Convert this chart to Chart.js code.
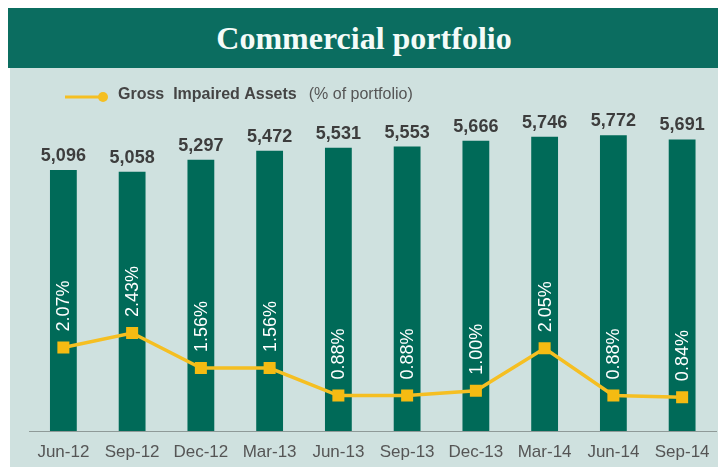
<!DOCTYPE html>
<html>
<head>
<meta charset="utf-8">
<script src="https://cdn.jsdelivr.net/npm/chart.js@4.4.1/dist/chart.umd.min.js"></script>
<style>
  html, body { margin: 0; padding: 0; background: #ffffff; }
  #wrap { position: relative; width: 718px; height: 467px; overflow: hidden; }
  #panel { position: absolute; left: 10px; top: 68px; right: 0; bottom: 0; background: #cfe1df; }
  #title {
    position: absolute; left: 8px; top: 8px; right: 0; height: 60px;
    background: #0b6d60; color: #f4fbf8;
    font-family: 'Liberation Serif', 'DejaVu Serif', serif; font-weight: bold; font-size: 32px;
    display: flex; align-items: center; justify-content: center;
    padding-left: 2px; box-sizing: border-box;
  }
  #myChart { position: absolute; left: 0; top: 0; }
</style>
</head>
<body>
<div id="wrap">
  <div id="panel"></div>
  <div id="title">Commercial portfolio</div>
  <canvas id="myChart" width="725" height="467"></canvas>
</div>
<script>
  const quarters = ['Jun-12', 'Sep-12', 'Dec-12', 'Mar-13', 'Jun-13', 'Sep-13', 'Dec-13', 'Mar-14', 'Jun-14', 'Sep-14'];
  const portfolio = [5096, 5058, 5297, 5472, 5531, 5553, 5666, 5746, 5772, 5691];
  const impaired = [2.07, 2.43, 1.56, 1.56, 0.88, 0.88, 1.00, 2.05, 0.88, 0.84];

  const barGreen = '#006a58';
  const gold = '#f5bf22';

  // labels on bars + the custom legend
  const labelsPlugin = {
    id: 'labels',
    afterDatasetsDraw(chart) {
      const c = chart.ctx;
      const lineMeta = chart.getDatasetMeta(0);
      const barMeta = chart.getDatasetMeta(1);
      c.save();
      // values above the bars
      c.font = 'bold 18px "Liberation Sans", Arial, sans-serif';
      c.fillStyle = '#3d3d3d';
      c.textAlign = 'center';
      c.textBaseline = 'alphabetic';
      barMeta.data.forEach((bar, i) => {
        c.fillText(portfolio[i].toLocaleString('en-US'), bar.x, bar.y - 9);
      });
      // rotated percentages inside bars
      c.font = '18px "Liberation Sans", Arial, sans-serif';
      c.fillStyle = '#ffffff';
      c.textAlign = 'left';
      c.textBaseline = 'middle';
      lineMeta.data.forEach((pt, i) => {
        c.save();
        c.translate(barMeta.data[i].x, pt.y - 16);
        c.rotate(-Math.PI / 2);
        c.fillText(impaired[i].toFixed(2) + '%', 0, 1);
        c.restore();
      });
      // legend
      c.strokeStyle = gold;
      c.lineWidth = 3;
      c.beginPath();
      c.moveTo(65, 97);
      c.lineTo(103, 97);
      c.stroke();
      c.fillStyle = gold;
      c.beginPath();
      c.arc(103, 97, 5, 0, Math.PI * 2);
      c.fill();
      c.textBaseline = 'middle';
      c.font = 'bold 16px "Liberation Sans", Arial, sans-serif';
      c.fillStyle = '#444444';
      const t1 = 'Gross  Impaired Assets';
      c.fillText(t1, 118, 95);
      const w1 = c.measureText(t1).width;
      c.font = '16px "Liberation Sans", Arial, sans-serif';
      c.fillStyle = '#555555';
      c.fillText('(% of portfolio)', 118 + w1 + 12, 95);
      c.restore();
    }
  };

  const ctx = document.getElementById('myChart');
  new Chart(ctx, {
    type: 'bar',
    data: {
      labels: quarters,
      datasets: [{
        type: 'line',
        label: 'Gross Impaired Assets (% of portfolio)',
        data: impaired,
        yAxisID: 'y1',
        borderColor: gold,
        backgroundColor: gold,
        borderWidth: 3.5,
        pointStyle: 'rect',
        pointRadius: 8.5,
        pointHoverRadius: 8.5,
        pointBackgroundColor: '#f5bb12',
        pointBorderWidth: 0,
        tension: 0,
        order: 0
      }, {
        type: 'bar',
        label: 'Commercial portfolio',
        data: portfolio,
        yAxisID: 'y',
        backgroundColor: barGreen,
        barPercentage: 0.39,
        categoryPercentage: 1,
        order: 1
      }]
    },
    options: {
      responsive: false,
      animation: false,
      layout: {
        padding: { left: 29, right: 0, top: 98, bottom: 5 }
      },
      plugins: {
        legend: { display: false },
        tooltip: { enabled: false }
      },
      scales: {
        x: {
          offset: true,
          grid: { display: false, drawTicks: false },
          border: { display: true, color: '#8f9a98', width: 1 },
          ticks: {
            padding: 11,
            color: '#555555',
            font: { size: 17, family: '"Liberation Sans", Arial, sans-serif' }
          },
          afterFit(scale) {
            scale.height = 31;
            scale.paddingLeft = 0;
            scale.paddingRight = 0;
          }
        },
        y: {
          display: false,
          min: 0,
          max: 6500
        },
        y1: {
          display: false,
          position: 'right',
          min: 0,
          max: 8.26
        }
      }
    },
    plugins: [labelsPlugin]
  });
</script>
</body>
</html>
